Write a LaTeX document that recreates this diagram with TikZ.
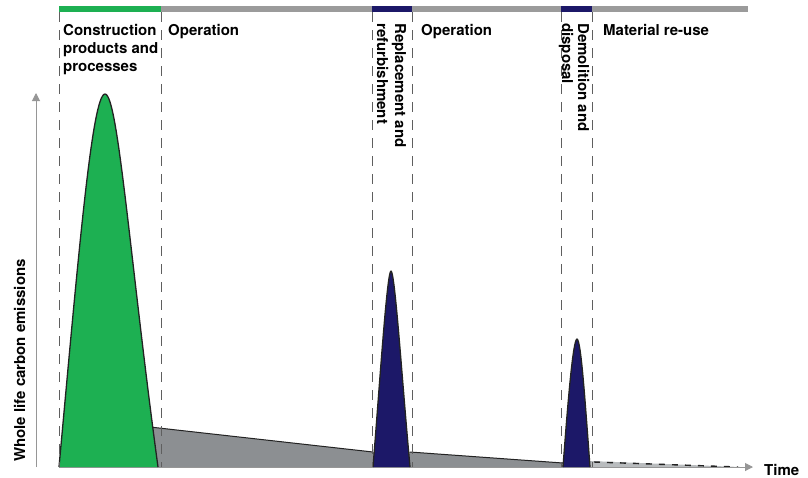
\documentclass[tikz,border=0pt]{standalone}
\usepackage{fontspec}
\setmainfont{TeX Gyre Heros}
\usetikzlibrary{arrows.meta}
\definecolor{cgreen}{RGB}{29,176,82}
\definecolor{cnavy}{RGB}{28,24,104}
\definecolor{cgrayfill}{RGB}{140,143,146}
\definecolor{ctail}{RGB}{185,188,190}
\definecolor{cbar}{RGB}{155,155,155}
\definecolor{cdash}{RGB}{95,95,95}
\definecolor{caxis}{RGB}{150,150,150}
\definecolor{coutline}{RGB}{35,35,35}
\begin{document}
\begin{tikzpicture}[x=1pt,y=-1pt,
  font=\bfseries\fontsize{15}{18}\selectfont,
  phase/.style={anchor=base west, inner sep=0pt},
  vphase/.style={anchor=base west, inner sep=0pt, rotate=-90},
  divider/.style={cdash, line width=0.9pt, dash pattern=on 10pt off 8pt},
  phasebar/.style={line width=6pt},
  peakline/.style={coutline, line width=1.3pt, line join=round},
  axisline/.style={caxis, line width=1pt, -{Triangle[length=8pt,width=8pt]}}]
\useasboundingbox (0,0) rectangle (808,477);

% life-cycle phase bar along the top
\coordinate (b0) at (59,9);
\coordinate (b1) at (161,9);
\coordinate (b2) at (372,9);
\coordinate (b3) at (412,9);
\coordinate (b4) at (561,9);
\coordinate (b5) at (592,9);
\coordinate (b6) at (748,9);
\draw[phasebar, cgreen] (b0) -- (b1);
\draw[phasebar, cbar] (b1) -- (b2);
\draw[phasebar, cnavy] (b2) -- (b3);
\draw[phasebar, cbar] (b3) -- (b4);
\draw[phasebar, cnavy] (b4) -- (b5);
\draw[phasebar, cbar] (b5) -- (b6);

% operational emissions (grey band) and end-of-life tail
\fill[cgrayfill] (150,427) -- (373,452) -- (410,452) -- (563,463)
  -- (592,461) -- (592,467) -- (150,467) -- cycle;
\draw[coutline, line width=1pt] (150,427) -- (373,452) (410,452) -- (563,463);
\fill[ctail] (590,461) -- (740,467) -- (590,467) -- cycle;
\draw[coutline, line width=1.4pt, dash pattern=on 6pt off 7pt] (594,462) -- (738,467);

% axes
\coordinate (origin) at (36,467);
\coordinate (ytip) at (36,93);
\coordinate (xstart) at (59,467);
\coordinate (xtip) at (753,467);
\draw[axisline] (origin) -- (ytip);
\draw[axisline] (xstart) -- (xtip);

% embodied carbon peaks
\fill[cgreen] (59,467) .. controls (78,260) and (92,94) .. (105,94)
  .. controls (118,94) and (130,260) .. (158,467) -- cycle;
\draw[peakline] (59,467) .. controls (78,260) and (92,94) .. (105,94)
  .. controls (118,94) and (130,260) .. (158,467);
\fill[cnavy] (373,467) .. controls (380,380) and (387,272) .. (391,271)
  .. controls (395,272) and (402,380) .. (410,467) -- cycle;
\draw[peakline] (373,467) .. controls (380,380) and (387,272) .. (391,271)
  .. controls (395,272) and (402,380) .. (410,467);
\fill[cnavy] (563,467) .. controls (568,400) and (573,340) .. (577,339)
  .. controls (581,340) and (585,400) .. (590,467) -- cycle;
\draw[peakline] (563,467) .. controls (568,400) and (573,340) .. (577,339)
  .. controls (581,340) and (585,400) .. (590,467);

% phase dividers
\foreach \x [count=\i] in {59,161,372,412,561,592} {
  \coordinate (dt\i) at (\x,12);
  \coordinate (db\i) at (\x,467);
  \draw[divider] (dt\i) -- (db\i);
}

% phase labels
\node[phase] (c1) at (63,35) {Construction};
\node[phase] (c2) at (63,53) {products and};
\node[phase] (c3) at (63,71) {processes};
\node[phase] (op1) at (168,35) {Operation};
\node[phase] (op2) at (421,35) {Operation};
\node[phase] (mr) at (603,35) {Material re-use};
\node[vphase] (rr1) at (395,23) {Replacement and};
\node[vphase] (rr2) at (377,23) {refurbishment};
\node[vphase] (dd1) at (578,23) {Demolition and};
\node[vphase] (dd2) at (562,23) {disposal};

% axis labels
\node[anchor=base west, inner sep=0pt, rotate=90] (ylab) at (25,462) {Whole life carbon emissions};
\node[phase] (xlab) at (764,475) {Time};
\end{tikzpicture}
\end{document}
